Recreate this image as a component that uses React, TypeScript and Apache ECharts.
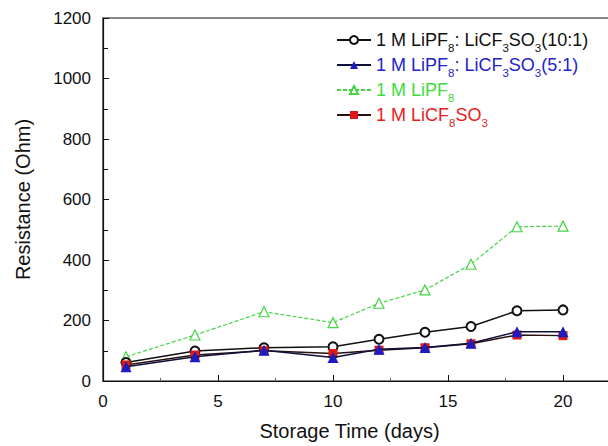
import React, { useEffect, useRef } from "react";
import * as echarts from "echarts";

const days = [1, 4, 7, 10, 12, 14, 16, 18, 20];
const mix10to1 = [61, 99, 110, 113, 138, 161, 180, 232, 235];
const mix5to1 = [47, 80, 102, 78, 105, 111, 125, 163, 163];
const lipf = [80, 152, 229, 193, 257, 301, 386, 510, 512];
const licf = [53, 86, 100, 91, 102, 110, 123, 152, 150];
const yTicks = [0, 200, 400, 600, 800, 1000, 1200];
const xTicks = [0, 5, 10, 15, 20];

const names = {
  a: "1 M LiPF8: LiCF3SO3(10:1)",
  b: "1 M LiPF8: LiCF3SO3(5:1)",
  c: "1 M LiPF8",
  d: "1 M LiCF8SO3",
};

const richLabel: Record<string, string> = {
  [names.a]: "{n|1 M LiPF}{s|8}{n|: LiCF}{s|3}{n|SO}{s|3}{n|(10:1)}",
  [names.b]: "{n|1 M LiPF}{s|8}{n|: LiCF}{s|3}{n|SO}{s|3}{n|(5:1)}",
  [names.c]: "{n|1 M LiPF}{s|8}",
  [names.d]: "{n|1 M LiCF}{s|8}{n|SO}{s|3}",
};

const pairs = (ys: number[]) => days.map((d, i) => [d, ys[i]]);

const FONT = "Liberation Sans, Arial, Helvetica, sans-serif";

export default function App() {
  const ref = useRef<HTMLDivElement>(null);
  useEffect(() => {
    if (!ref.current) return;
    const chart = echarts.init(ref.current, undefined, { renderer: "svg" });
    chart.setOption({
      animation: false,
      textStyle: { fontFamily: FONT },
      grid: {
        left: 103,
        top: 18,
        width: 575,
        height: 363,
        outerBoundsMode: "none",
        show: true,
        borderColor: "#111",
        borderWidth: 1.2,
        containLabel: false,
      },
      legend: {
        orient: "vertical",
        left: 331,
        top: 26,
        itemWidth: 34,
        itemHeight: 10,
        itemGap: 2,
        data: [
          { name: names.a, textStyle: { color: "#111" } },
          { name: names.b, textStyle: { color: "#2323c8" } },
          { name: names.c, textStyle: { color: "#3ddc3d" } },
          { name: names.d, textStyle: { color: "#e51c1c" } },
        ],
        formatter: (n: string) => richLabel[n] || n,
        textStyle: {
          fontFamily: FONT,
          rich: {
            n: { fontSize: 18, lineHeight: 18, verticalAlign: "top", fontFamily: FONT },
            s: { fontSize: 11.5, lineHeight: 11, verticalAlign: "top", padding: [11, 0, 0, 0], fontFamily: FONT },
          },
        },
      },
      xAxis: {
        type: "value",
        min: 0,
        max: 25,
        interval: 5,
        name: "Storage Time (days)",
        nameLocation: "middle",
        nameGap: 40,
        nameTextStyle: { fontSize: 20, color: "#111", fontFamily: FONT, padding: [0, 82, 0, 0] },
        axisLine: { show: true, lineStyle: { color: "#111", width: 1.2 } },
        axisTick: { show: true, inside: true, length: 6, lineStyle: { color: "#111" } },
        minorTick: { show: true, splitNumber: 2, length: 3, lineStyle: { color: "#666" } },
        splitLine: { show: false },
        axisLabel: {
          fontSize: 17,
          color: "#111",
          margin: 12,
          fontFamily: FONT,
          formatter: (v: number) => (xTicks.includes(v) ? String(v) : ""),
        },
      },
      yAxis: {
        type: "value",
        min: 0,
        max: 1200,
        interval: 200,
        name: "Resistance (Ohm)",
        nameLocation: "middle",
        nameGap: 70,
        nameTextStyle: { fontSize: 20, color: "#111", fontFamily: FONT },
        axisLine: { show: true, lineStyle: { color: "#111", width: 1.2 } },
        axisTick: { show: true, inside: true, length: 6, lineStyle: { color: "#111" } },
        minorTick: { show: true, splitNumber: 2, length: 5, lineStyle: { color: "#111" } },
        splitLine: { show: false },
        axisLabel: {
          fontSize: 17,
          color: "#111",
          margin: 12,
          fontFamily: FONT,
          formatter: (v: number) => (yTicks.includes(v) ? String(v) : ""),
        },
      },
      series: [
        {
          name: names.a,
          type: "line",
          data: pairs(mix10to1),
          symbol: "circle",
          symbolSize: 9,
          itemStyle: { color: "#fff", borderColor: "#111", borderWidth: 2 },
          lineStyle: { color: "#111", width: 1.5 },
          z: 3,
        },
        {
          name: names.c,
          type: "line",
          data: pairs(lipf),
          symbol: "triangle",
          symbolSize: 10,
          itemStyle: { color: "#fff", borderColor: "#44d444", borderWidth: 1.2 },
          lineStyle: { color: "#44d444", width: 1.2, type: [4, 2] },
          z: 2,
        },
        {
          name: names.d,
          type: "line",
          data: pairs(licf),
          symbol: "rect",
          symbolSize: 9,
          itemStyle: { color: "#e01818" },
          lineStyle: { color: "#2a1010", width: 1.5 },
          z: 4,
        },
        {
          name: names.b,
          type: "line",
          data: pairs(mix5to1),
          symbol: "triangle",
          symbolSize: 11,
          itemStyle: { color: "#1c1cc0" },
          lineStyle: { color: "#10103a", width: 1.5 },
          z: 5,
        },
      ],
    });
    return () => chart.dispose();
  }, []);
  return <div ref={ref} style={{ width: 608, height: 446, position: "absolute", left: 0, top: 0 }} />;
}
